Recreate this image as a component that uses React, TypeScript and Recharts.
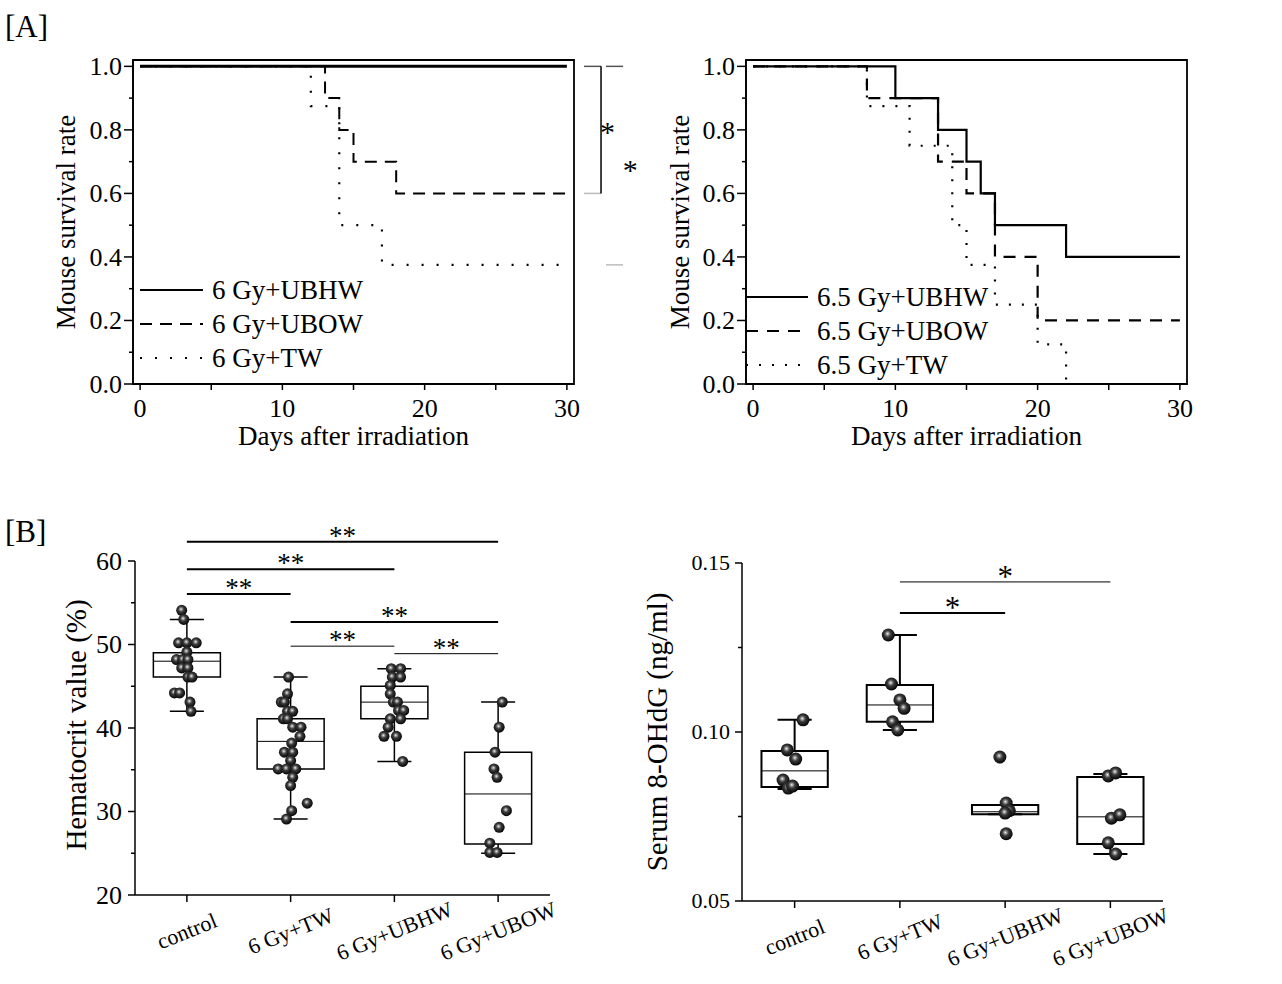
import React from "react";
import {
  ComposedChart,
  Line,
  Scatter,
  XAxis,
  YAxis,
  ReferenceArea,
  ReferenceLine,
  ReferenceDot,
  Legend,
} from "recharts";

const FONT = "'Liberation Serif', 'Times New Roman', Times, serif";

// ====================
// [A] survival data
// ====================
const dayTicks = [0, 5, 10, 15, 20, 25, 30];
const survTicks = [0, 0.1, 0.2, 0.3, 0.4, 0.5, 0.6, 0.7, 0.8, 0.9, 1.0];

// 6 Gy
const days6UBHW = [0, 30];
const surv6UBHW = [1, 1];
const days6UBOW = [0, 13, 14, 15, 18, 30];
const surv6UBOW = [1, 0.9, 0.8, 0.7, 0.6, 0.6];
const days6TW = [0, 12, 14, 17, 30];
const surv6TW = [1, 0.875, 0.5, 0.375, 0.375];

// 6.5 Gy
const days65UBHW = [0, 10, 13, 15, 16, 17, 22, 30];
const surv65UBHW = [1, 0.9, 0.8, 0.7, 0.6, 0.5, 0.4, 0.4];
const days65UBOW = [0, 8, 13, 15, 17, 20, 30];
const surv65UBOW = [1, 0.9, 0.7, 0.6, 0.4, 0.2, 0.2];
const days65TW = [0, 8, 11, 14, 15, 17, 20, 22];
const surv65TW = [1, 0.875, 0.75, 0.5, 0.375, 0.25, 0.125, 0];

// significance (6 Gy panel), in data units
const sig6Top = [1.0, 1.0];
const sig6Bottom = [0.6, 0.375];
const sig6StarX = [32.85, 34.45];
const sig6StarY = [0.81, 0.69];

// ====================
// [B] group data
// ====================
const groups = ["control", "6 Gy+TW", "6 Gy+UBHW", "6 Gy+UBOW"];

// hematocrit (%)
const hctControl = [54.1, 53.0, 50.2, 50.2, 50.2, 49.1, 48.2, 48.2, 48.2, 47.2, 47.2, 46.1, 46.1, 44.2, 44.2, 43.1, 42.0];
const hctControlJit = [-0.05, -0.03, -0.08, 0, 0.09, 0, -0.1, -0.04, 0.01, -0.05, 0.01, 0.01, 0.05, -0.12, -0.07, 0.03, 0.04];
const hctTW = [46.1, 44.1, 43.1, 43.1, 42.0, 42.0, 41.1, 41.1, 40.1, 40.1, 39.0, 38.2, 37.1, 37.1, 36.1, 35.1, 35.1, 35.1, 34.1, 33.1, 31.0, 30.1, 29.1];
const hctTWJit = [-0.02, -0.03, -0.09, -0.06, -0.03, 0.02, -0.07, -0.03, 0.02, 0.1, 0.09, 0.01, -0.06, 0.02, 0, -0.12, -0.04, 0.05, 0.02, 0, 0.16, 0.01, -0.04];
const hctUBHW = [47.1, 47.1, 46.1, 46.1, 45.1, 44.1, 43.1, 43.1, 42.1, 42.1, 41.1, 41.1, 40.1, 39.0, 39.0, 36.0];
const hctUBHWJit = [-0.03, 0.06, -0.02, 0.06, -0.04, -0.04, -0.01, 0.03, 0.04, 0.09, -0.04, 0.06, -0.06, -0.1, 0.02, 0.08];
const hctUBOW = [43.1, 40.1, 37.1, 35.1, 34.1, 30.1, 28.1, 26.2, 25.1, 25.1];
const hctUBOWJit = [0.04, 0.01, -0.03, -0.04, -0.01, 0.08, 0.01, -0.08, -0.08, -0.01];

const hctQ1 = [46.1, 35.1, 41.1, 26.1];
const hctMed = [48.0, 38.4, 43.1, 32.1];
const hctQ3 = [49.0, 41.1, 45.0, 37.1];
const hctLo = [42.0, 29.1, 36.0, 25.0];
const hctHi = [53.0, 46.1, 47.1, 43.1];

const hctSigFrom = [1, 1, 1, 2, 2, 3];
const hctSigTo = [4, 3, 2, 4, 3, 4];
const hctSigY = [62.3, 59.0, 56.05, 52.7, 49.8, 48.9];
const hctSigText = ["**", "**", "**", "**", "**", "**"];

// serum 8-OHdG (ng/ml)
const ohControl = [0.1036, 0.0947, 0.092, 0.0858, 0.0834, 0.084];
const ohControlJit = [0.08, -0.07, 0.01, -0.11, -0.06, -0.02];
const ohTW = [0.1287, 0.1142, 0.1095, 0.107, 0.103, 0.1006];
const ohTWJit = [-0.11, -0.08, 0, 0.04, -0.07, -0.02];
const ohUBHW = [0.0926, 0.079, 0.0767, 0.076, 0.0699];
const ohUBHWJit = [-0.05, 0.01, 0.04, 0, 0.01];
const ohUBOW = [0.087, 0.0879, 0.0745, 0.0755, 0.0672, 0.0639];
const ohUBOWJit = [-0.02, 0.05, 0.01, 0.09, -0.02, 0.05];

const ohQ1 = [0.0837, 0.103, 0.0757, 0.0669];
const ohMed = [0.0885, 0.108, 0.0764, 0.0749];
const ohQ3 = [0.0944, 0.1139, 0.0784, 0.0867];
const ohLo = [0.0831, 0.1006, 0.0757, 0.0639];
const ohHi = [0.1036, 0.1287, 0.0784, 0.0876];

const ohSigFrom = [2, 2];
const ohSigTo = [4, 3];
const ohSigY = [0.1444, 0.1352];
const ohSigText = ["*", "*"];

// ====================
// helpers
// ====================
const AX = { stroke: "#000", strokeWidth: 1.5 };

const toPts = (xs: number[], ys: number[]) => xs.map((x, i) => ({ x, y: ys[i] }));

const yTick =
  (majorStep: number, decimals: number, fontSize: number, majorLen: number, minorLen: number, margin: number) =>
  (props: any) => {
    const { x, y, payload } = props;
    const v = payload.value;
    const r = v / majorStep;
    const isMajor = Math.abs(r - Math.round(r)) < 1e-6;
    const ax = x + majorLen + margin;
    return (
      <g>
        <line x1={ax - (isMajor ? majorLen : minorLen)} x2={ax} y1={y} y2={y} stroke="#000" strokeWidth={1.5} />
        {isMajor && (
          <text x={x} y={y} dy="0.34em" textAnchor="end" fontSize={fontSize} fontFamily={FONT} fill="#000">
            {v.toFixed(decimals)}
          </text>
        )}
      </g>
    );
  };

const catTick = (fontSize: number, drop: number) => (props: any) => {
  const { x, y, payload } = props;
  const cy = y + drop;
  return (
    <text
      x={x}
      y={cy}
      dy="0.34em"
      textAnchor="middle"
      transform={`rotate(-22 ${x} ${cy})`}
      fontSize={fontSize}
      fontFamily={FONT}
      fill="#000"
    >
      {groups[payload.value - 1]}
    </text>
  );
};

const yTitle = (text: string, baseX: number, fontSize: number, shiftY = 0) => (props: any) => {
  const vb = props.viewBox;
  const cx = vb.x + baseX;
  const cy = vb.y + vb.height / 2 + shiftY;
  return (
    <text x={cx} y={cy} transform={`rotate(-90 ${cx} ${cy})`} textAnchor="middle" fontSize={fontSize} fontFamily={FONT} fill="#000">
      {text}
    </text>
  );
};

const xTitle = (text: string, drop: number, fontSize: number) => (props: any) => {
  const vb = props.viewBox;
  return (
    <text x={vb.x + vb.width / 2} y={vb.y + drop} textAnchor="middle" fontSize={fontSize} fontFamily={FONT} fill="#000">
      {text}
    </text>
  );
};

const starLabel = (text: string, fontSize: number, lift: number) => (props: any) => {
  const vb = props.viewBox;
  return (
    <text x={vb.x + vb.width / 2} y={vb.y - lift} textAnchor="middle" fontSize={fontSize} fontFamily={FONT} fill="#000">
      {text}
    </text>
  );
};

// ====================
// [A] survival panel
// ====================
type LineSpec = { name: string; days: number[]; surv: number[]; width: number; dash?: string };

const spec6: LineSpec[] = [
  { name: "6 Gy+UBHW", days: days6UBHW, surv: surv6UBHW, width: 3 },
  { name: "6 Gy+UBOW", days: days6UBOW, surv: surv6UBOW, width: 2, dash: "12 8" },
  { name: "6 Gy+TW", days: days6TW, surv: surv6TW, width: 2.2, dash: "2 13" },
];

const spec65: LineSpec[] = [
  { name: "6.5 Gy+UBHW", days: days65UBHW, surv: surv65UBHW, width: 2.2 },
  { name: "6.5 Gy+UBOW", days: days65UBOW, surv: surv65UBOW, width: 2.2, dash: "12 9" },
  { name: "6.5 Gy+TW", days: days65TW, surv: surv65TW, width: 2.2, dash: "2 11" },
];

const legendBox = (specs: LineSpec[], lineLen: number, rowH: number) => () => (
  <div style={{ fontFamily: FONT, fontSize: 27, color: "#000" }}>
    {specs.map((s) => (
      <div key={s.name} style={{ display: "flex", alignItems: "center", height: rowH }}>
        <svg width={lineLen} height={6} style={{ display: "block" }}>
          <line x1={0} x2={lineLen} y1={3} y2={3} stroke="#000" strokeWidth={Math.min(s.width, 2.2)} strokeDasharray={s.dash} />
        </svg>
        <span style={{ marginLeft: 9, lineHeight: `${rowH}px`, whiteSpace: "nowrap" }}>{s.name}</span>
      </div>
    ))}
  </div>
);

function SurvivalChart(p: {
  specs: LineSpec[];
  yWidth: number;
  right: number;
  titleX: number;
  legendLeft: number;
  legendTop: number;
  lineLen: number;
  children?: React.ReactNode;
}) {
  return (
    <ComposedChart width={660} height={460} margin={{ top: 60, right: p.right, bottom: 0, left: 0 }}>
      <XAxis
        type="number"
        dataKey="x"
        domain={[-0.5, 30.5]}
        ticks={dayTicks}
        interval={0}
        allowDataOverflow
        height={76}
        tickSize={6}
        tickMargin={9}
        axisLine={AX}
        tickLine={AX}
        tick={{ fill: "#000", fontSize: 26, fontFamily: FONT }}
        tickFormatter={(v: number) => (v % 10 === 0 ? String(v) : "")}
        label={xTitle("Days after irradiation", 61, 27)}
      />
      <YAxis
        type="number"
        dataKey="y"
        domain={[0, 1.02]}
        ticks={survTicks}
        interval={0}
        allowDataOverflow
        width={p.yWidth}
        tickSize={9}
        tickMargin={2}
        axisLine={AX}
        tickLine={false}
        tick={yTick(0.2, 1, 26, 9, 4, 2)}
        label={yTitle("Mouse survival rate", p.titleX, 27)}
      />
      <ReferenceArea x1={-0.5} x2={30.5} y1={0} y2={1.02} fill="none" stroke="#000" strokeWidth={1.8} ifOverflow="visible" />
      {[...p.specs].reverse().map((s) => (
        <Line
          key={s.name}
          name={s.name}
          data={toPts(s.days, s.surv)}
          dataKey="y"
          type="stepAfter"
          stroke="#000"
          strokeWidth={s.width}
          strokeDasharray={s.dash}
          dot={false}
          activeDot={false}
          isAnimationActive={false}
        />
      ))}
      {p.children}
      <Legend
        layout="horizontal"
        verticalAlign="middle"
        align="center"
        content={legendBox(p.specs, p.lineLen, 34)}
        wrapperStyle={{ left: p.legendLeft, top: p.legendTop, width: "auto", height: "auto" }}
      />
    </ComposedChart>
  );
}

// ====================
// [B] box panel
// ====================
function boxMarks(q1: number[], med: number[], q3: number[], lo: number[], hi: number[], half: number, cap: number, sw: number, k: string) {
  const out: React.ReactNode[] = [];
  q1.forEach((_, i) => {
    const c = i + 1;
    const seg = (id: string, a: any, b: any, w: number) =>
      out.push(<ReferenceLine key={`${k}-${id}-${i}`} segment={[a, b]} stroke="#000" strokeWidth={w} ifOverflow="visible" />);
    seg("wu", { x: c, y: q3[i] }, { x: c, y: hi[i] }, sw);
    seg("wl", { x: c, y: lo[i] }, { x: c, y: q1[i] }, sw);
    seg("cu", { x: c - cap, y: hi[i] }, { x: c + cap, y: hi[i] }, sw);
    seg("cl", { x: c - cap, y: lo[i] }, { x: c + cap, y: lo[i] }, sw);
    out.push(
      <ReferenceArea key={`${k}-box-${i}`} x1={c - half} x2={c + half} y1={q1[i]} y2={q3[i]} fill="#fff" fillOpacity={0} stroke="#000" strokeWidth={sw} ifOverflow="visible" />
    );
    seg("md", { x: c - half, y: med[i] }, { x: c + half, y: med[i] }, 1);
  });
  return out;
}

function sigMarks(from: number[], to: number[], ys: number[], texts: string[], widths: number[], fontSize: number, lift: number, k: string) {
  return from.map((f, i) => (
    <ReferenceLine
      key={`${k}-sig-${i}`}
      segment={[{ x: f, y: ys[i] }, { x: to[i], y: ys[i] }]}
      stroke="#000"
      strokeWidth={widths[i]}
      ifOverflow="visible"
      label={starLabel(texts[i], fontSize, lift)}
    />
  ));
}

const ball = (r: number, id: string) => (props: any) => <circle cx={props.cx} cy={props.cy} r={r} fill={`url(#${id})`} />;

const ballGrad = (id: string) => (
  <defs>
    <radialGradient id={id} cx="0.45" cy="0.42" r="0.6" fx="0.44" fy="0.4">
      <stop offset="0" stopColor="#f4f4f4" />
      <stop offset="0.16" stopColor="#a0a0a0" />
      <stop offset="0.42" stopColor="#3a3a3a" />
      <stop offset="1" stopColor="#000" />
    </radialGradient>
  </defs>
);

export default function App() {
  const hctSets = [
    [hctControl, hctControlJit],
    [hctTW, hctTWJit],
    [hctUBHW, hctUBHWJit],
    [hctUBOW, hctUBOWJit],
  ];
  const ohSets = [
    [ohControl, ohControlJit],
    [ohTW, ohTWJit],
    [ohUBHW, ohUBHWJit],
    [ohUBOW, ohUBOWJit],
  ];

  return (
    <div
      style={{
        position: "absolute",
        left: 0,
        top: 0,
        width: 1282,
        height: 984,
        background: "#fff",
        fontFamily: FONT,
        overflow: "hidden",
      }}
    >
      <div style={{ position: "absolute", left: 5, top: 11, fontSize: 31, lineHeight: 1 }}>[A]</div>
      <div style={{ position: "absolute", left: 5, top: 516, fontSize: 31, lineHeight: 1 }}>[B]</div>

      {/* A: 6 Gy */}
      <div style={{ position: "absolute", left: 0, top: 0 }}>
        <SurvivalChart specs={spec6} yWidth={133} right={86} titleX={75} legendLeft={140} legendTop={273} lineLen={63}>
          {sig6Top.map((t, i) => {
            const x0 = i === 0 ? 31.2 : 32.75;
            const x1 = i === 0 ? 32.4 : 33.95;
            return [
              <ReferenceLine key={`bt${i}`} segment={[{ x: x0, y: t }, { x: x1, y: t }]} stroke="#555" strokeWidth={1.5} ifOverflow="visible" />,
              <ReferenceLine key={`bb${i}`} segment={[{ x: x0, y: sig6Bottom[i] }, { x: x1, y: sig6Bottom[i] }]} stroke="#bbb" strokeWidth={1.5} ifOverflow="visible" />,
            ];
          })}
          <ReferenceLine segment={[{ x: 32.4, y: sig6Top[0] }, { x: 32.4, y: sig6Bottom[0] }]} stroke="#000" strokeWidth={1.5} ifOverflow="visible" />
          {sig6StarX.map((sx, i) => (
            <ReferenceDot
              key={`st${i}`}
              x={sx}
              y={sig6StarY[i]}
              r={1}
              ifOverflow="visible"
              shape={(pp: any) => (
                <text x={pp.cx} y={pp.cy + 15} textAnchor="middle" fontSize={30} fontFamily={FONT} fill="#000">
                  *
                </text>
              )}
            />
          ))}
        </SurvivalChart>
      </div>

      {/* A: 6.5 Gy */}
      <div style={{ position: "absolute", left: 620, top: 0 }}>
        <SurvivalChart specs={spec65} yWidth={126} right={93} titleX={69} legendLeft={126} legendTop={280} lineLen={62} />
      </div>

      {/* B: hematocrit */}
      <div style={{ position: "absolute", left: 0, top: 470 }}>
        <ComposedChart width={640} height={514} margin={{ top: 91, right: 90, bottom: 0, left: 0 }}>
          {ballGrad("ballHct")}
          <XAxis
            type="number"
            dataKey="x"
            domain={[0.5, 4.5]}
            ticks={[1, 2, 3, 4]}
            interval={0}
            allowDataOverflow
            height={89}
            tickSize={7}
            tickMargin={0}
            axisLine={AX}
            tickLine={AX}
            tick={catTick(22, 29)}
          />
          <YAxis
            type="number"
            dataKey="y"
            domain={[20, 60]}
            ticks={[20, 25, 30, 35, 40, 45, 50, 55, 60]}
            interval={0}
            allowDataOverflow
            width={135}
            tickSize={7}
            tickMargin={6}
            axisLine={AX}
            tickLine={false}
            tick={yTick(10, 0, 26, 7, 4, 6)}
            label={yTitle("Hematocrit value (%)", 86, 29, -3)}
          />
          {boxMarks(hctQ1, hctMed, hctQ3, hctLo, hctHi, 0.323, 0.164, 1.5, "h")}
          {sigMarks(hctSigFrom, hctSigTo, hctSigY, hctSigText, [2, 2, 2, 2, 1, 1], 27, -3, "h")}
          {hctSets.map(([vals, jit], g) => (
            <Scatter
              key={`hs${g}`}
              data={(vals as number[]).map((v, i) => ({ x: g + 1 + (jit as number[])[i], y: v }))}
              shape={ball(5.5, "ballHct")}
              isAnimationActive={false}
            />
          ))}
        </ComposedChart>
      </div>

      {/* B: serum 8-OHdG */}
      <div style={{ position: "absolute", left: 620, top: 470 }}>
        <ComposedChart width={660} height={514} margin={{ top: 93, right: 117, bottom: 0, left: 0 }}>
          {ballGrad("ballOh")}
          <XAxis
            type="number"
            dataKey="x"
            domain={[0.5, 4.5]}
            ticks={[1, 2, 3, 4]}
            interval={0}
            allowDataOverflow
            height={83}
            tickSize={7}
            tickMargin={0}
            axisLine={AX}
            tickLine={AX}
            tick={catTick(22, 29)}
          />
          <YAxis
            type="number"
            dataKey="y"
            domain={[0.05, 0.15]}
            ticks={[0.05, 0.075, 0.1, 0.125, 0.15]}
            interval={0}
            allowDataOverflow
            width={122}
            tickSize={7}
            tickMargin={5}
            axisLine={AX}
            tickLine={false}
            tick={yTick(0.05, 2, 22, 7, 4, 5)}
            label={yTitle("Serum 8-OHdG (ng/ml)", 47, 29, 0)}
          />
          {boxMarks(ohQ1, ohMed, ohQ3, ohLo, ohHi, 0.315, 0.162, 2, "o")}
          {sigMarks(ohSigFrom, ohSigTo, ohSigY, ohSigText, [1, 2.2], 31, -5, "o")}
          {ohSets.map(([vals, jit], g) => (
            <Scatter
              key={`os${g}`}
              data={(vals as number[]).map((v, i) => ({ x: g + 1 + (jit as number[])[i], y: v }))}
              shape={ball(6.5, "ballOh")}
              isAnimationActive={false}
            />
          ))}
        </ComposedChart>
      </div>
    </div>
  );
}
